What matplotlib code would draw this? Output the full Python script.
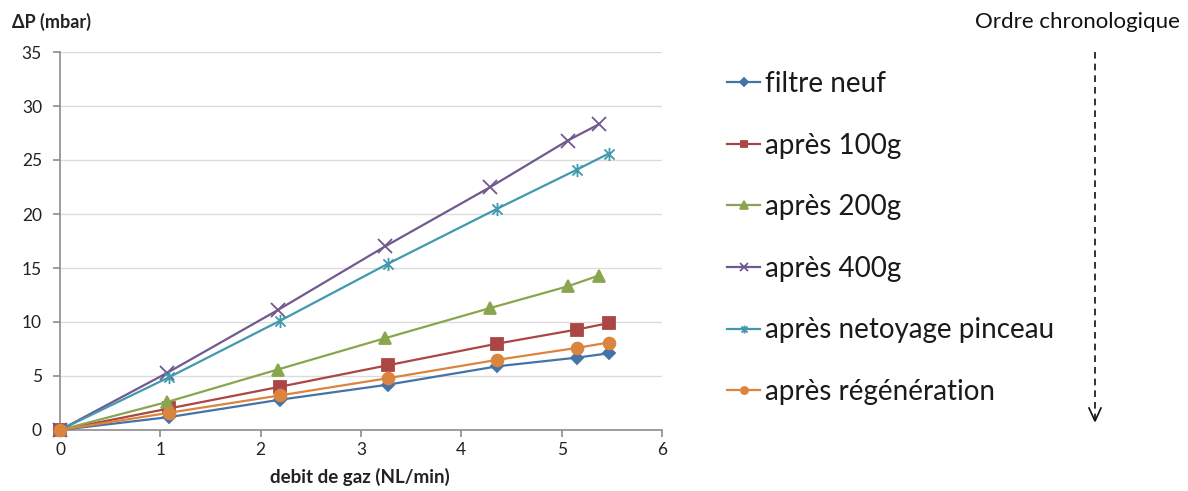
import matplotlib
matplotlib.use('Agg')
import matplotlib.pyplot as plt
from matplotlib.lines import Line2D
from matplotlib.path import Path

plt.rcParams['font.family'] = ['Lato', 'DejaVu Sans']

# flow rate (NL/min) and pressure drop (mbar)
x_a = [0, 1.09, 2.19, 3.27, 4.36, 5.15, 5.47]
x_b = [0, 1.07, 2.17, 3.24, 4.29, 5.06, 5.37]

filtre_neuf = [0, 1.2, 2.8, 4.2, 5.9, 6.7, 7.1]
apres_100g = [0, 2.0, 4.0, 6.0, 8.0, 9.3, 9.9]
apres_200g = [0, 2.6, 5.6, 8.5, 11.3, 13.3, 14.3]
apres_400g = [0, 5.3, 11.1, 17.0, 22.5, 26.8, 28.3]
apres_pinceau = [0, 4.9, 10.1, 15.4, 20.5, 24.1, 25.6]
apres_regen = [0, 1.6, 3.2, 4.8, 6.5, 7.6, 8.1]

labels = ['filtre neuf', 'après 100g', 'après 200g', 'après 400g',
          'après netoyage pinceau', 'après régénération']

# x with a vertical bar, like the excel star marker
star = Path([(-1, -1), (1, 1), (-1, 1), (1, -1), (0, -1.3), (0, 1.3)],
            [Path.MOVETO, Path.LINETO, Path.MOVETO, Path.LINETO, Path.MOVETO, Path.LINETO])

series = [
    (x_a, filtre_neuf, '#4572A7', 'D', 6.5),
    (x_a, apres_100g, '#AA4643', 's', 8),
    (x_b, apres_200g, '#89A54E', '^', 9),
    (x_b, apres_400g, '#71588F', 'x', 10),
    (x_a, apres_pinceau, '#4198AF', star, 9.5),
    (x_a, apres_regen, '#DB843D', 'o', 8.5),
]

fig = plt.figure(figsize=(11.88, 4.91), dpi=100)
ax = fig.add_axes([60 / 1188, 1 - 430 / 491, 602 / 1188, 378 / 491])

handles = []
for (xs, ys, c, m, ms), lab in zip(series, labels):
    h, = ax.plot(xs, ys, color=c, marker=m, ms=ms, lw=1.6, mew=1.3, label=lab, clip_on=False, zorder=3)
    handles.append(h)

ax.set_xlim(0, 6)
ax.set_ylim(0, 35)
ax.set_xticks(range(0, 7))
ax.set_yticks(range(0, 36, 5))
ax.grid(axis='y', color='#dcdcdc', lw=1)
ax.set_axisbelow(True)
for s in ['top', 'right']:
    ax.spines[s].set_visible(False)
for s in ['left', 'bottom']:
    ax.spines[s].set_color('#8c8c8c')
    ax.spines[s].set_linewidth(1.2)
ax.tick_params(colors='#8c8c8c', labelcolor='#222222', labelsize=12.5, length=5, width=1.2)
ax.tick_params(axis='y', pad=8)

fig.text(12 / 1188, 1 - 22 / 491, 'ΔP (mbar)', fontsize=13, fontweight='bold', va='center', color='#222222')
fig.text(360 / 1188, 1 - 477 / 491, 'debit de gaz (NL/min)', fontsize=13.5, fontweight='bold',
         ha='center', va='center', color='#222222')

leg = fig.legend(handles=handles, loc='upper left', bbox_to_anchor=(716 / 1188, 1 - 60 / 491),
                 frameon=False, fontsize=20, handlelength=1.2, handletextpad=0.15,
                 labelspacing=1.28, borderaxespad=0, markerscale=0.6)
for t in leg.get_texts():
    t.set_color('#1a1a1a')

fig.text(1180 / 1188, 1 - 22 / 491, 'Ordre chronologique', fontsize=16, ha='right', va='center', color='#111111')

# dashed arrow for the chronological order, open V head
W, H = 1188, 491
fig.add_artist(Line2D([1095 / W, 1095 / W], [1 - 52 / H, 1 - 420 / H], transform=fig.transFigure,
                      color='#111111', lw=1.2, ls=(0, (4, 3))))
fig.add_artist(Line2D([1089 / W, 1095 / W, 1101 / W], [1 - 408 / H, 1 - 421 / H, 1 - 408 / H],
                      transform=fig.transFigure, color='#111111', lw=1.2))

fig.savefig('out.png', dpi=100)
